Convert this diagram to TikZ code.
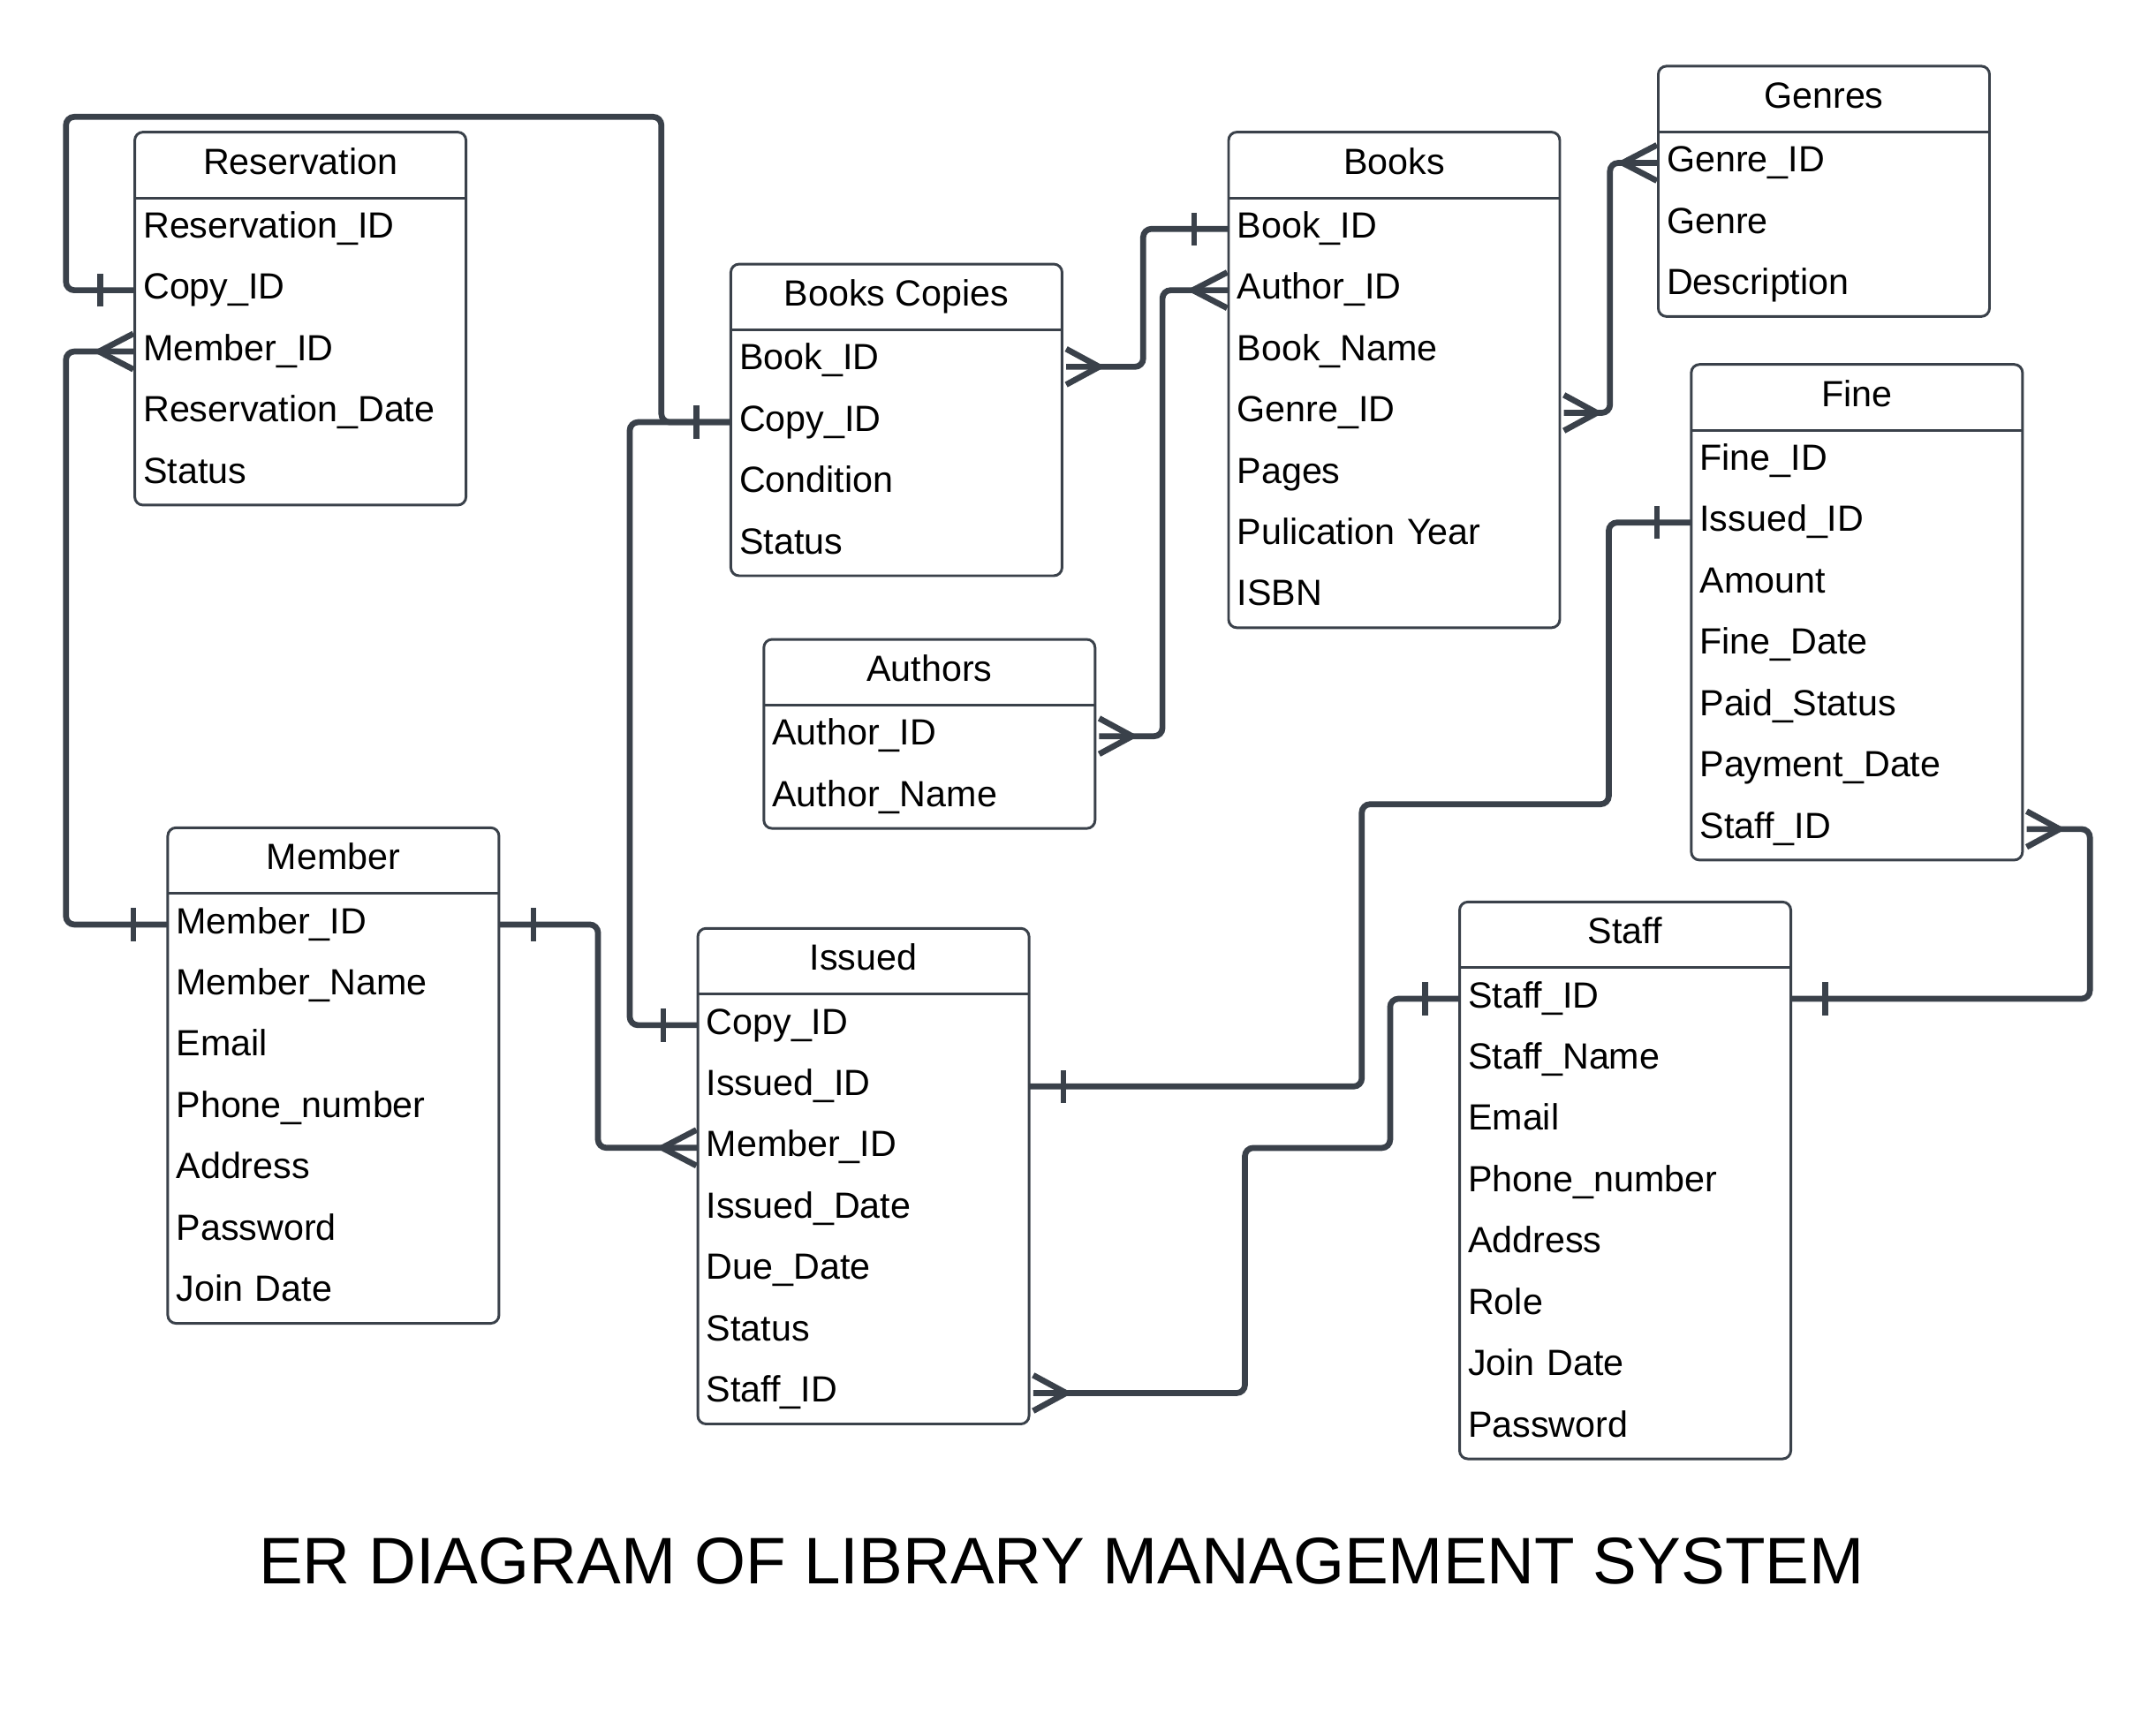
\documentclass[tikz,border=0pt]{standalone}
\usepackage{fontspec}
\setmainfont{Liberation Sans}
\definecolor{lc}{HTML}{3A414A}
\newcommand\rowfont{\fontsize{26.5}{32}\selectfont}
\newcommand\ertable[6]{% name, left, divider y, number of rows, title, rows
  \node[hdr, anchor=south west] (#1) at (#2,#3) {#5};
  \foreach \t [count=\i] in {#6} {
    \node[cell, anchor=north west] (#1-\i) at (#2,{#3+(\i-1)*44.6}) {\t};
  }
  \draw[frame, rounded corners=6pt] (#1.north west) rectangle (#1-#4.south east);
  \draw[frame] (#1.south west) -- (#1.south east);
}
\newcommand\oneL[1]{\draw[mk] ([xshift=-25pt,yshift=-12pt]#1) -- ([xshift=-25pt,yshift=12pt]#1);}
\newcommand\oneR[1]{\draw[mk] ([xshift=25pt,yshift=-12pt]#1) -- ([xshift=25pt,yshift=12pt]#1);}
\newcommand\manyL[1]{\draw[mk] ([xshift=-1pt,yshift=13pt]#1) -- ([xshift=-26pt]#1) -- ([xshift=-1pt,yshift=-13pt]#1);}
\newcommand\manyR[1]{\draw[mk] ([xshift=3pt,yshift=13pt]#1) -- ([xshift=27pt]#1) -- ([xshift=3pt,yshift=-13pt]#1);}
\tikzset{
  hdr/.style={minimum width=240.5pt, minimum height=47.5pt, inner sep=0pt,
    text height=19pt, text depth=6pt, font=\rowfont},
  cell/.style={minimum height=44.6pt, text width=228.5pt, inner xsep=6pt, inner ysep=0pt,
    align=left, text height=19pt, text depth=6pt, font=\rowfont},
  frame/.style={draw=lc, line width=1.9pt},
  conn/.style={draw=lc, line width=4.3pt, rounded corners=6pt},
  mk/.style={draw=lc, line width=4.3pt, line join=miter},
}
\begin{document}
\begin{tikzpicture}[x=1pt, y=-1pt]
\fill[white] (0,0) rectangle (1568,1252.6);
\useasboundingbox (0,0) rectangle (1568,1252.6);

\ertable{res}{98}{144}{5}{Reservation}{Reservation\_ID, Copy\_ID, Member\_ID, Reservation\_Date, Status}
\ertable{bc}{531.5}{240}{4}{Books Copies}{Book\_ID, Copy\_ID, Condition, Status}
\ertable{bk}{893.5}{144}{7}{Books}{Book\_ID, Author\_ID, Book\_Name, Genre\_ID, Pages, Pulication Year, ISBN}
\ertable{gen}{1206}{96}{3}{Genres}{Genre\_ID, Genre, Description}
\ertable{fine}{1230}{313}{7}{Fine}{Fine\_ID, Issued\_ID, Amount, Fine\_Date, Paid\_Status, Payment\_Date, Staff\_ID}
\ertable{au}{555.5}{513}{2}{Authors}{Author\_ID, Author\_Name}
\ertable{mem}{122}{650}{7}{Member}{Member\_ID, Member\_Name, Email, Phone\_number, Address, Password, Join Date}
\ertable{is}{507.5}{723.2}{7}{Issued}{Copy\_ID, Issued\_ID, Member\_ID, Issued\_Date, Due\_Date, Status, Staff\_ID}
\ertable{st}{1061.5}{704}{8}{Staff}{Staff\_ID, Staff\_Name, Email, Phone\_number, Address, Role, Join Date, Password}

\coordinate (bcfoot) at ([yshift=-4.3pt]bc-1.east);

% connectors
\draw[conn] (bc-2.west) -- ++(-50.5,0) |- (48,85) |- (res-2.west);
\draw[conn] (is-1.west) -- ++(-49.5,0) |- (bc-2.west);
\draw[conn] (res-3.west) -- ++(-50,0) |- (mem-1.west);
\draw[conn] ([xshift=3pt]bcfoot) -- ++(56,0) |- (bk-1.west);
\draw[conn] ([xshift=3pt]au-1.east) -- ++(46,0) |- (bk-2.west);
\draw[conn] ([xshift=3pt]bk-4.east) -- ++(33.5,0) |- (gen-1.west);
\draw[conn] (is-2.east) -- ++(242,0) |- (1170,585) |- (fine-2.west);
\draw[conn] ([xshift=3pt]is-7.east) -- ++(154,0) |- (1011,835) |- (st-1.west);
\draw[conn] (mem-1.east) -- ++(72,0) |- (is-3.west);
\draw[conn] ([xshift=3pt]fine-7.east) -- ++(46,0) |- (st-1.east);

% end markers
\oneL{res-2.west}
\oneL{bc-2.west}
\oneL{is-1.west}
\manyL{res-3.west}
\oneL{mem-1.west}
\manyR{bcfoot}
\oneL{bk-1.west}
\manyR{au-1.east}
\manyL{bk-2.west}
\manyR{bk-4.east}
\manyL{gen-1.west}
\oneR{is-2.east}
\oneL{fine-2.west}
\manyR{is-7.east}
\oneL{st-1.west}
\oneR{mem-1.east}
\manyL{is-3.west}
\manyR{fine-7.east}
\oneR{st-1.east}

\node[font=\fontsize{47.9}{57}\selectfont, anchor=base] (title) at (772,1152) {ER DIAGRAM OF LIBRARY MANAGEMENT SYSTEM};
\end{tikzpicture}
\end{document}
